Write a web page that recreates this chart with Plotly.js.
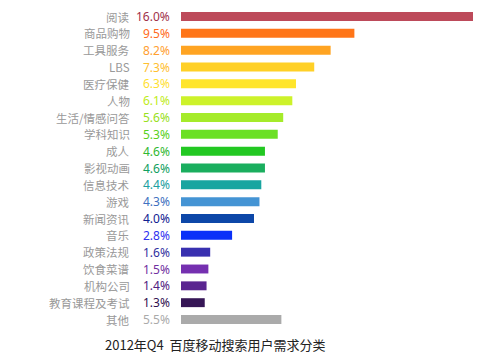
<!DOCTYPE html>
<html>
<head>
<meta charset="utf-8">
<script src="https://cdn.plot.ly/plotly-3.0.1.min.js"></script>
<style>html,body{margin:0;padding:0;background:#fff;}#chart{width:495px;height:364px;}</style>
</head>
<body>
<div id="chart"></div>
<script>
const categories = ["阅读","商品购物","工具服务","LBS","医疗保健","人物","生活/情感问答","学科知识","成人","影视动画","信息技术","游戏","新闻资讯","音乐","政策法规","饮食菜谱","机构公司","教育课程及考试","其他"];
const values = [16.0,9.5,8.2,7.3,6.3,6.1,5.6,5.3,4.6,4.6,4.4,4.3,4.0,2.8,1.6,1.5,1.4,1.3,5.5];
const valueLabels = ["16.0%","9.5%","8.2%","7.3%","6.3%","6.1%","5.6%","5.3%","4.6%","4.6%","4.4%","4.3%","4.0%","2.8%","1.6%","1.5%","1.4%","1.3%","5.5%"];
const barColors = ["#BD4A5A","#FF7518","#FFA422","#FFD027","#FFE52B","#CDF22A","#A5EB2A","#6BE025","#22C822","#1AAE5E","#18A5A0","#4494D4","#0D47A8","#0A30F8","#3830B0","#7530B0","#5A2590","#361656","#AAAAAA"];
const labelColors = ["#A0304A","#FF6A20","#FFA030","#FFC030","#FFE030","#C0EC20","#98E020","#58D020","#30B830","#10A060","#20A0A0","#4070C0","#102090","#3030F0","#3030A0","#7030A0","#502080","#301050","#AAAAAA"];

const plotL = 181, plotR = 480;
const plotW = plotR - plotL;
const pxPerUnit = 18.25;

const annotations = [];
categories.forEach((c, i) => {
  annotations.push({xref:'paper', yref:'y', x:-(plotL-131)/plotW, y:c, text:c, showarrow:false, xanchor:'right', yanchor:'middle',
    borderpad:0,
    font:{family:'"Noto Sans CJK SC", "Noto Sans", sans-serif', size:11.5, color:'#999999'}});
  annotations.push({xref:'paper', yref:'y', x:-(plotL-171)/plotW, y:c, text:valueLabels[i], showarrow:false, xanchor:'right', yanchor:'middle',
    borderpad:0,
    font:{family:'"Noto Sans", "Noto Sans CJK SC", sans-serif', size:12, color:labelColors[i]}});
});

const trace = {
  type:'bar', orientation:'h', y:categories, x:values,
  marker:{color:barColors, line:{width:0}},
  hoverinfo:'none'
};

const layout = {
  width:495, height:364,
  margin:{l:plotL, r:495-plotR, t:7, b:35},
  paper_bgcolor:'#ffffff', plot_bgcolor:'#ffffff',
  bargap:0.47,
  showlegend:false,
  xaxis:{range:[0, plotW/pxPerUnit], visible:false, fixedrange:true},
  yaxis:{type:'category', autorange:'reversed', showticklabels:false, showgrid:false, zeroline:false, showline:false, ticks:'', fixedrange:true},
  title:{text:'2012年Q4  百度移动搜索用户需求分类', xref:'container', yref:'container', x:105/495, xanchor:'left', y:1-345/364, yanchor:'middle',
    font:{family:'"Noto Sans CJK SC", sans-serif', size:13, color:'#222222'}},
  annotations:annotations
};

Plotly.newPlot('chart', [trace], layout, {displayModeBar:false, staticPlot:true});
</script>
</body>
</html>
